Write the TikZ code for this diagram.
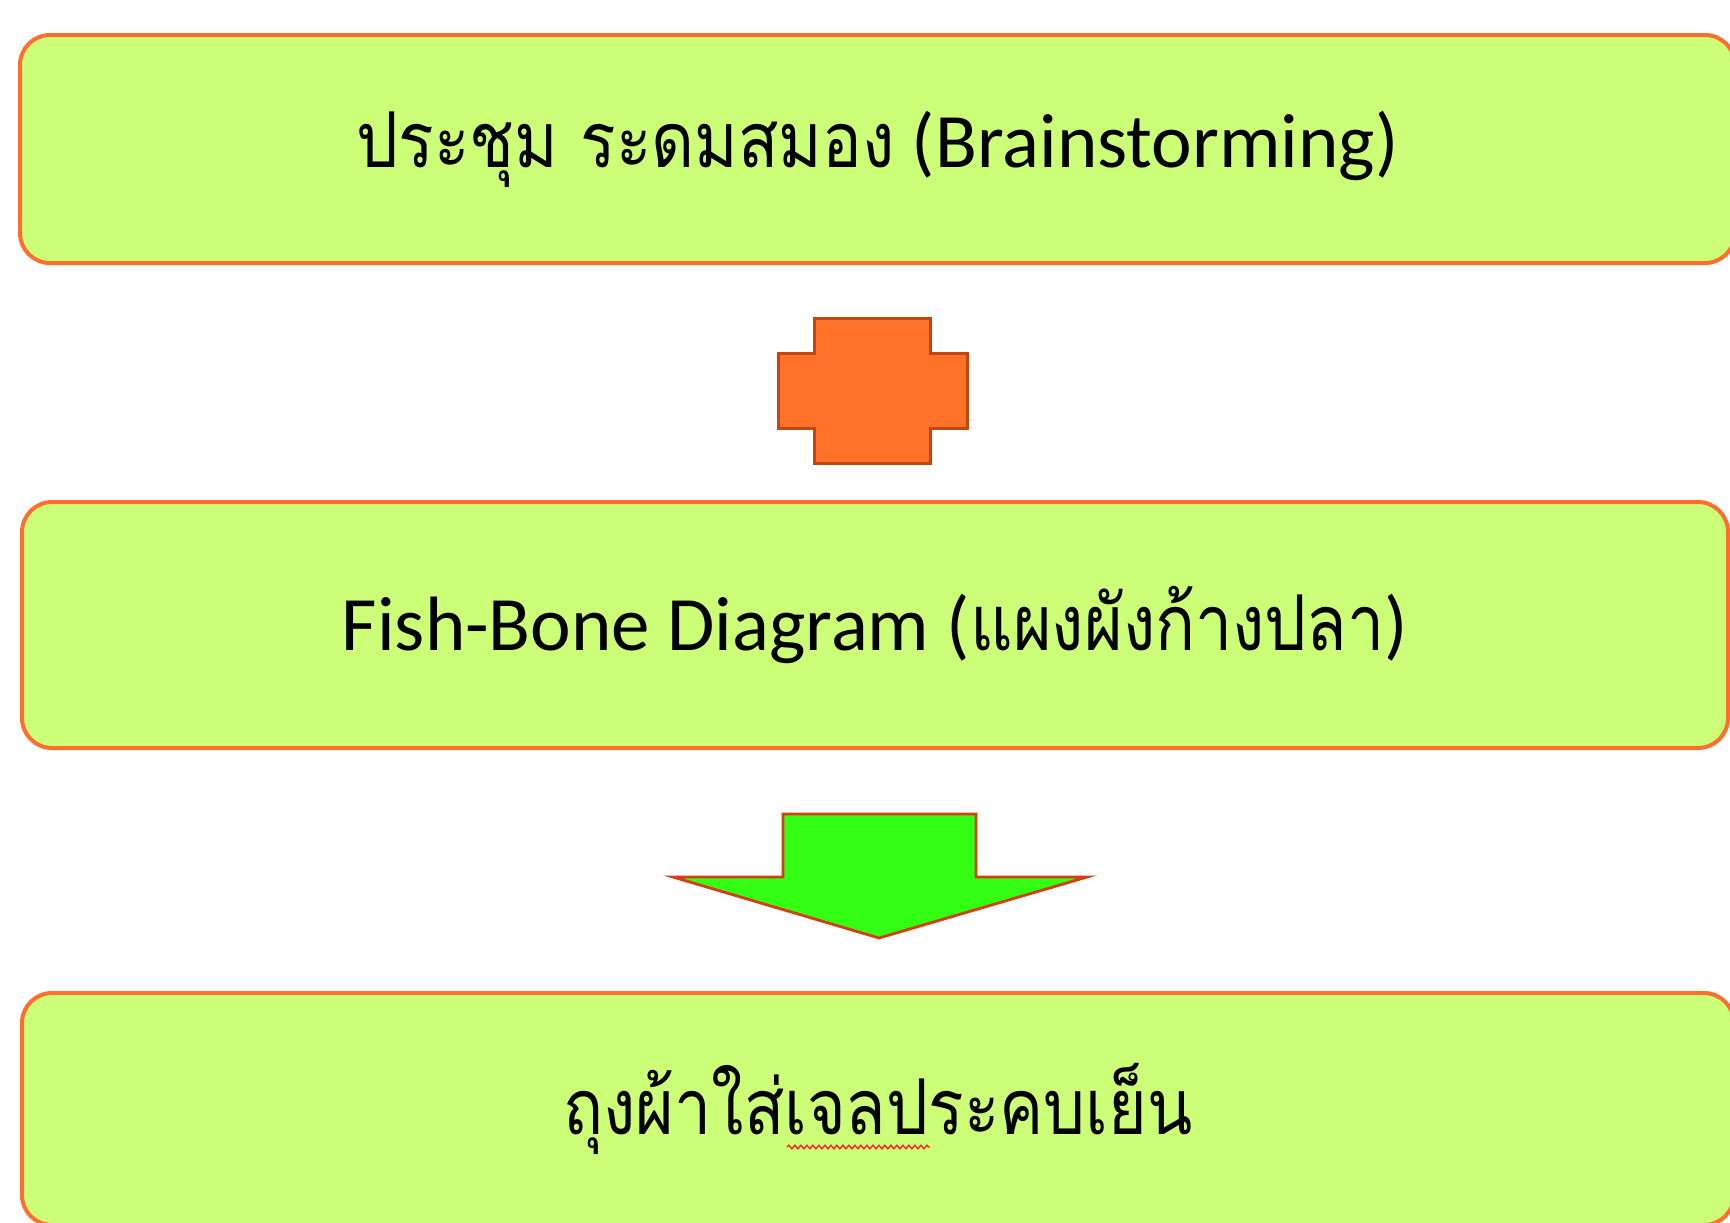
\documentclass[tikz,border=0pt]{standalone}
\usepackage{fontspec}
\setmainfont{Carlito}
\newfontfamily\thai[Script=Thai, FakeStretch=0.86]{Loma}
\usetikzlibrary{decorations.pathmorphing}
\definecolor{boxfill}{RGB}{204,255,119}
\definecolor{boxline}{RGB}{255,110,45}
\definecolor{plusfill}{RGB}{255,112,40}
\definecolor{plusline}{RGB}{195,70,15}
\definecolor{arrowfill}{RGB}{51,255,20}
\definecolor{arrowline}{RGB}{215,60,20}
\tikzset{
  stagebox/.style={draw=boxline, fill=boxfill, line width=2pt, rounded corners=15pt,
    inner sep=0pt, font=\fontsize{38.5}{46}\selectfont, text=black},
  plusshape/.style={draw=plusline, fill=plusfill, line width=1.5pt},
  downarrow/.style={draw=arrowline, fill=arrowfill, line width=1.4pt},
  squiggle/.style={draw=red!85!white, line width=0.7pt, decorate,
    decoration={snake, segment length=3pt, amplitude=0.9pt}}
}
\begin{document}
\begin{tikzpicture}[x=0.5pt,y=-0.5pt]
\useasboundingbox (0,0) rectangle (1730,1222);
\clip (0,0) rectangle (1730,1222);
\fill[white] (0,0) rectangle (1730,1222);
% boxes
\node[stagebox, minimum width=857.5pt, minimum height=114pt] (b1) at (877.5,149)
  {{\thai ประชุม ระดมสมอง} (Brainstorming)};
\node[stagebox, minimum width=853pt, minimum height=123pt] (b2) at (875,625)
  {Fish-Bone Diagram ({\thai แผงผังก้างปลา})};
\node[stagebox, minimum width=856pt, minimum height=116pt] (b3) at (878,1109)
  {\thai ถุงผ้าใส่เจลประคบเย็น};
% plus shape
\draw[plusshape] (814,318) -- (930,318) -- (930,353) -- (967,353) -- (967,428)
  -- (930,428) -- (930,463) -- (814,463) -- (814,428) -- (778,428) -- (778,353)
  -- (814,353) -- cycle;
% block arrow
\draw[downarrow] (783,814) -- (976,814) -- (976,877) -- (1087,877) -- (879,938)
  -- (673,877) -- (783,877) -- cycle;
% spell-check underline
\coordinate (sqa) at (787,1147);
\coordinate (sqb) at (930,1147);
\draw[squiggle] (sqa) -- (sqb);
\end{tikzpicture}
\end{document}
